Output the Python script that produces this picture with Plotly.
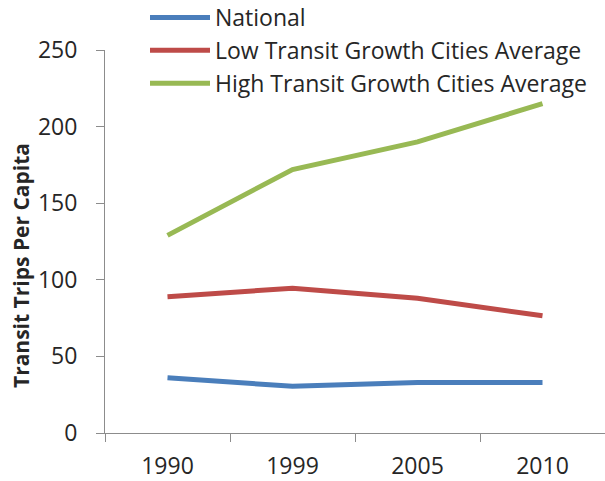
import plotly.graph_objects as go

years = ["1990", "1999", "2005", "2010"]
national = [36, 30.5, 33, 33]
low_growth = [89, 94.5, 88, 76.5]
high_growth = [129, 172, 190, 215]

series_names = ["National", "Low Transit Growth Cities Average", "High Transit Growth Cities Average"]
series_colors = ["#4A7EBB", "#BE4B48", "#98B954"]
y_ticks = [0, 50, 100, 150, 200, 250]

FONT = "Open Sans"
TEXT = "#262626"
AXIS = "#8C8C8C"

fig = go.Figure()
for i, (name, vals, col) in enumerate(zip(series_names, [national, low_growth, high_growth], series_colors)):
    fig.add_trace(go.Scatter(x=years, y=vals, name=name, mode="lines", legendgroup=f"g{i}",
                             line=dict(color=col, width=5)))

fig.update_layout(
    width=605, height=481,
    paper_bgcolor="white", plot_bgcolor="white",
    margin=dict(l=105, r=0, t=50, b=48, autoexpand=False),
    font=dict(family=FONT, color=TEXT, size=23),
    showlegend=True,
    legend=dict(x=0.08, y=1.141, xanchor="left", yanchor="top",
                bgcolor="rgba(0,0,0,0)", font=dict(size=23, family=FONT, color=TEXT),
                itemwidth=60, tracegroupgap=0),
    xaxis=dict(type="category", range=[-0.5, 3.5], showgrid=False, zeroline=False,
               showline=True, linecolor=AXIS, linewidth=1, automargin=False,
               ticks="outside", tickson="boundaries", ticklen=8, tickcolor=AXIS,
               tickfont=dict(size=23, family=FONT, color=TEXT), ticklabelstandoff=12),
    yaxis=dict(range=[0, 250], tickvals=y_ticks, showgrid=False, zeroline=False,
               showline=True, linecolor=AXIS, linewidth=1, automargin=False,
               ticks="outside", ticklen=8, tickcolor=AXIS,
               tickfont=dict(size=23, family=FONT, color=TEXT), ticklabelstandoff=14),
    annotations=[dict(text="<b>Transit Trips Per Capita</b>", textangle=-90,
                      xref="paper", yref="paper", x=-0.168, y=0.436,
                      xanchor="center", yanchor="middle", showarrow=False,
                      font=dict(size=21, family=FONT, color=TEXT))],
)

# remove the default 8px page margin so the figure fills the window exactly
fig.write_html("out.html", config={"displayModeBar": False},
               post_script="document.body.style.margin='0';")
